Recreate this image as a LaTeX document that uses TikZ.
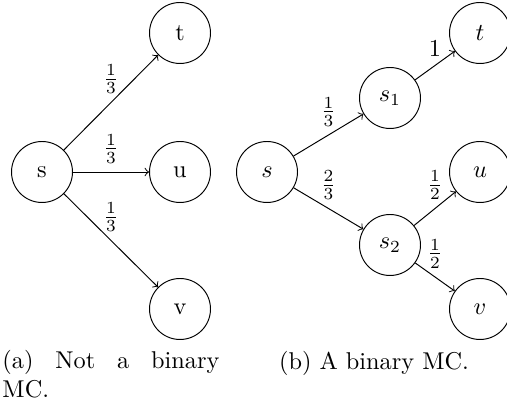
\documentclass[tikz,border=0pt]{standalone}
\begin{document}
\begin{tikzpicture}[x=0.4115pt,y=-0.4115pt,
  state/.style={circle,draw,minimum size=25.1pt,inner sep=0pt},
  trans/.style={->},
  lab/.style={above}]
\useasboundingbox (0,0) rectangle (507,407);
% (a)
\node[state] (as) at (42,172) {s};
\node[state] (at) at (180,33) {t};
\node[state] (au) at (180,172) {u};
\node[state] (av) at (180,309) {v};
\draw[trans] (as) -- node[lab] {$\frac{1}{3}$} (at);
\draw[trans] (as) -- node[lab] {$\frac{1}{3}$} (au);
\draw[trans] (as) -- node[lab] {$\frac{1}{3}$} (av);
\node[anchor=north west,inner sep=0pt,align=left] (capa) at (2,350)
  {\makebox[89.3pt][s]{(a) Not a binary}\\MC.};
% (b)
\node[state] (bs) at (267,172) {$s$};
\node[state] (bs1) at (390,98) {$s_1$};
\node[state] (bs2) at (390,245) {$s_2$};
\node[state] (bt) at (480,33) {$t$};
\node[state] (bu) at (480,172) {$u$};
\node[state] (bv) at (480,309) {$v$};
\draw[trans] (bs) -- node[lab] {$\frac{1}{3}$} (bs1);
\draw[trans] (bs) -- node[lab] {$\frac{2}{3}$} (bs2);
\draw[trans] (bs1) -- node[lab] {$1$} (bt);
\draw[trans] (bs2) -- node[lab] {$\frac{1}{2}$} (bu);
\draw[trans] (bs2) -- node[lab] {$\frac{1}{2}$} (bv);
\node[anchor=base,inner sep=0pt] (capb) at (374,370) {(b) A binary MC.};
\end{tikzpicture}
\end{document}
